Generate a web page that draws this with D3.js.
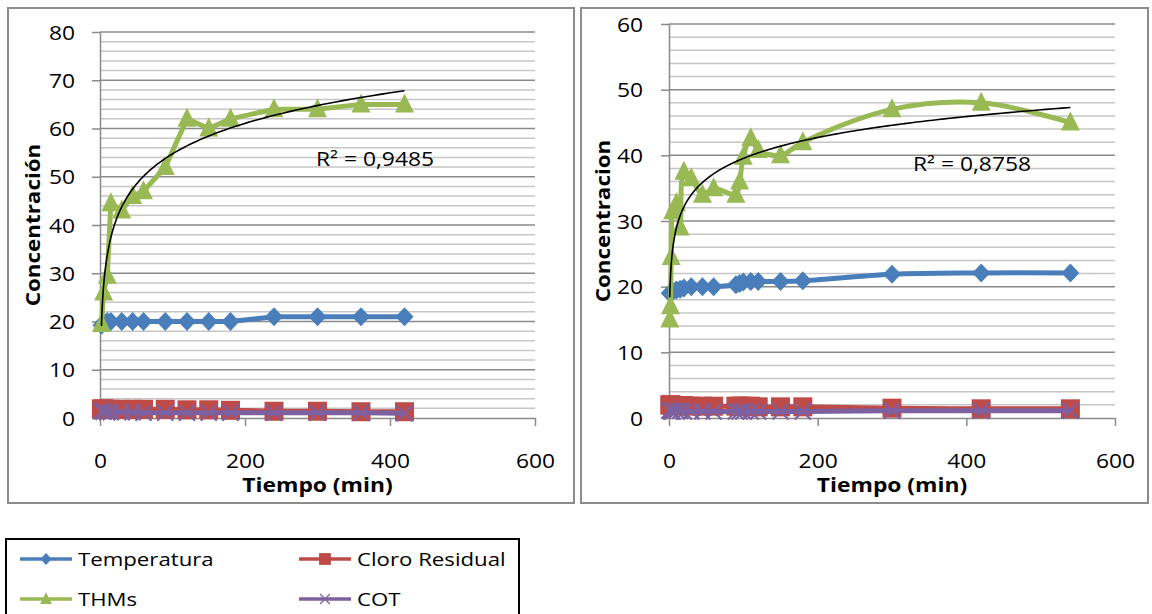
<!DOCTYPE html>
<html><head><meta charset="utf-8">
<script src="https://cdn.jsdelivr.net/npm/d3@7"></script>
<style>body{margin:0;background:#fff}svg{display:block}</style>
</head><body>
<svg id="c" width="1152" height="614"></svg>
<script>
// ---------- data ----------
const seriesNames = ["Temperatura", "Cloro Residual", "THMs", "COT"];

const timeLeft = [2, 5, 10, 15, 30, 45, 60, 90, 120, 150, 180, 240, 300, 360, 420];
const tempLeft = [19.2, 19.8, 20, 20, 20, 20, 20, 20, 20, 20, 20, 21, 21, 21, 21];
const cloroLeft = [1.9, 1.9, 1.8, 1.8, 1.8, 1.8, 1.8, 1.8, 1.7, 1.7, 1.6, 1.4, 1.4, 1.3, 1.3];
const thmsLeft = [19.5, 26, 29.5, 44.5, 43, 46, 47, 52, 62, 60, 62, 64, 64, 65, 65];
const cotLeft = [1.4, 1.3, 1.2, 1.2, 1.2, 1.2, 1.1, 1.1, 1.1, 1.1, 1.1, 1.1, 1.1, 1.1, 1.0];
const r2Left = "R² = 0,9485";

const timeRight = [1, 2, 3, 5, 10, 15, 20, 30, 45, 60, 90, 95, 100, 110, 120, 150, 180, 300, 420, 540];
const tempRight = [19, 19, 19.2, 19.3, 19.5, 19.6, 19.8, 20, 20, 20, 20.3, 20.5, 20.7, 20.8, 20.8, 20.8, 20.9, 21.9, 22.1, 22.1];
const cloroRight = [2.0, 2.0, 2.0, 1.9, 1.9, 1.9, 1.9, 1.8, 1.8, 1.8, 1.8, 1.8, 1.8, 1.8, 1.7, 1.7, 1.7, 1.5, 1.4, 1.4];
const thmsRight = [15, 17, 24.5, 31.5, 32.7, 29, 37.5, 36.5, 34, 35, 34, 36, 39.8, 42.6, 40.8, 40, 42, 47, 48, 45];
const cotRight = [1.2, 1.1, 1.0, 1.0, 1.1, 1.1, 1.0, 1.0, 1.0, 1.0, 1.0, 1.0, 1.0, 1.0, 1.0, 1.0, 1.0, 1.1, 1.1, 1.1];
const r2Right = "R² = 0,8758";

const xTicks = [0, 200, 400, 600];
const yTicksLeft = [0, 10, 20, 30, 40, 50, 60, 70, 80];
const yTicksRight = [0, 10, 20, 30, 40, 50, 60];
const xTitle = "Tiempo (min)";
const yTitleLeft = "Concentración";
const yTitleRight = "Concentracion";

// ---------- style ----------
const FONT = "'Open Sans', 'Noto Sans', sans-serif";
const SX = 1.17;
const colors = ["#4A7EBB", "#BE4B48", "#98B954", "#7D60A0"];
const MAJOR = "#8a8a8a", MINOR = "#c6c6c6";

const svg = d3.select("#c");

function txt(g, x, y, s, o) {
  return g.append("text")
    .attr("transform", `translate(${x},${y})${o.rot ? ` rotate(${o.rot})` : ""} scale(${o.sx || SX},1)`)
    .attr("text-anchor", o.anchor || "start")
    .style("font-family", FONT).style("font-size", o.size + "px")
    .style("font-weight", o.weight || 400).attr("fill", "#000").text(s);
}

function marker(g, type, x, y, color) {
  if (type === 0) {
    g.append("path").attr("d", "M0,-9.5L9,0L0,9.5L-9,0Z").attr("transform", `translate(${x},${y})`).attr("fill", color);
  } else if (type === 1) {
    g.append("rect").attr("x", x - 9.5).attr("y", y - 9.5).attr("width", 19).attr("height", 19).attr("fill", color);
  } else if (type === 2) {
    g.append("path").attr("d", "M0,-11L9.5,8L-9.5,8Z").attr("transform", `translate(${x},${y})`).attr("fill", color);
  } else {
    g.append("path").attr("d", "M-8,-8L8,8M-8,8L8,-8").attr("transform", `translate(${x},${y})`)
      .attr("stroke", color).attr("stroke-width", 2).attr("fill", "none");
  }
}

function logFit(ts, ys) {
  const L = ts.map(Math.log);
  const mL = d3.mean(L), mY = d3.mean(ys);
  let sxy = 0, sxx = 0;
  L.forEach((l, i) => { sxy += (l - mL) * (ys[i] - mY); sxx += (l - mL) ** 2; });
  const a = sxy / sxx;
  return { a, b: mY - a * mL };
}

function chart(cfg) {
  const g = svg.append("g");
  g.append("rect").attr("x", cfg.box[0]).attr("y", cfg.box[1]).attr("width", cfg.box[2]).attr("height", cfg.box[3])
    .attr("fill", "#fff").attr("stroke", "#8c8c8c").attr("stroke-width", 2);

  const x = d3.scaleLinear().domain([0, 600]).range([cfg.px0, cfg.px1]);
  const y = d3.scaleLinear().domain([0, cfg.ymax]).range([cfg.py0, cfg.py1]);

  const minor = d3.range(0, cfg.ymax + 0.001, 2).filter(v => v % 10 !== 0);
  g.selectAll(".mn").data(minor).join("line")
    .attr("x1", cfg.px0).attr("x2", cfg.px1).attr("y1", d => y(d)).attr("y2", d => y(d))
    .attr("stroke", MINOR).attr("stroke-width", 1.5);
  g.selectAll(".mj").data(cfg.yTicks.filter(v => v > 0)).join("line")
    .attr("x1", cfg.px0).attr("x2", cfg.px1).attr("y1", d => y(d)).attr("y2", d => y(d))
    .attr("stroke", MAJOR).attr("stroke-width", 1.5);

  const ay = g.append("g").attr("transform", `translate(${cfg.px0},0)`)
    .call(d3.axisLeft(y).tickValues(cfg.yTicks).tickSize(8).tickSizeOuter(0));
  ay.select(".domain").attr("stroke", MAJOR).attr("stroke-width", 1.5);
  ay.selectAll(".tick line").attr("stroke", MAJOR).attr("stroke-width", 1.5);
  ay.selectAll(".tick text").attr("x", null).attr("dy", null)
    .attr("transform", `translate(${-cfg.ylabOff},7) scale(${SX},1)`)
    .attr("text-anchor", "end").style("font-family", FONT).style("font-size", "19.5px").attr("fill", "#000");

  const ax = g.append("g").attr("transform", `translate(0,${cfg.py0})`)
    .call(d3.axisBottom(x).tickValues(xTicks).tickSize(8).tickSizeOuter(0));
  ax.select(".domain").attr("stroke", MAJOR).attr("stroke-width", 1.5);
  ax.selectAll(".tick line").attr("stroke", MAJOR).attr("stroke-width", 1.5);
  ax.selectAll(".tick text").attr("y", null).attr("dy", null)
    .attr("transform", `translate(0,50) scale(${SX},1)`)
    .attr("text-anchor", "middle").style("font-family", FONT).style("font-size", "19.5px").attr("fill", "#000");

  const curve = cfg.smooth ? d3.curveCatmullRom.alpha(0.5) : d3.curveLinear;
  cfg.series.forEach((vals, si) => {
    const pts = cfg.t.map((t, i) => [x(t), y(vals[i])]);
    g.append("path").attr("d", d3.line().curve(curve)(pts))
      .attr("fill", "none").attr("stroke", colors[si]).attr("stroke-width", 5).attr("stroke-linejoin", "round");
    pts.forEach(p => marker(g, si, p[0], p[1], colors[si]));
  });

  const fit = logFit(cfg.t, cfg.series[2]);
  const t0 = d3.min(cfg.t), t1 = d3.max(cfg.t);
  const tt = d3.range(0, 301).map(i => t0 * Math.pow(t1 / t0, i / 300));
  g.append("path").attr("d", d3.line()(tt.map(t => [x(t), y(fit.a * Math.log(t) + fit.b)])))
    .attr("fill", "none").attr("stroke", "#000").attr("stroke-width", 1.6);

  txt(g, cfg.r2[0], cfg.r2[1], cfg.r2txt, { size: 19.5 });
  txt(g, (cfg.px0 + cfg.px1) / 2, 492, xTitle, { size: 19.5, weight: 700, anchor: "middle" });
  txt(g, cfg.ytx, (cfg.py0 + cfg.py1) / 2, cfg.ytitle, { size: 20, weight: 700, anchor: "middle", rot: -90, sx: 1.12 });
}

chart({
  box: [8, 8, 566, 495], px0: 100, px1: 535, py0: 418, py1: 32, ymax: 80, yTicks: yTicksLeft, ylabOff: 25,
  t: timeLeft, series: [tempLeft, cloroLeft, thmsLeft, cotLeft], smooth: false,
  r2: [316, 166], r2txt: r2Left, ytitle: yTitleLeft, ytx: 40
});
chart({
  box: [581, 8, 567, 495], px0: 669, px1: 1115, py0: 418, py1: 24, ymax: 60, yTicks: yTicksRight, ylabOff: 26,
  t: timeRight, series: [tempRight, cloroRight, thmsRight, cotRight], smooth: true,
  r2: [913, 171], r2txt: r2Right, ytitle: yTitleRight, ytx: 610
});

const lg = svg.append("g");
lg.append("rect").attr("x", 6).attr("y", 539).attr("width", 513).attr("height", 120)
  .attr("fill", "#fff").attr("stroke", "#000").attr("stroke-width", 2);
const legPos = [[20, 559], [299, 559], [20, 599], [299, 599]];
seriesNames.forEach((n, i) => {
  const [lx, ly] = legPos[i];
  lg.append("line").attr("x1", lx).attr("x2", lx + 52).attr("y1", ly).attr("y2", ly)
    .attr("stroke", colors[i]).attr("stroke-width", 3.5);
  const m = lg.append("g").attr("transform", `translate(${lx + 26},${ly}) scale(0.62)`);
  marker(m, i, 0, 0, colors[i]);
  txt(lg, lx + 58, ly + 7, n, { size: 19 });
});
</script>
</body></html>
